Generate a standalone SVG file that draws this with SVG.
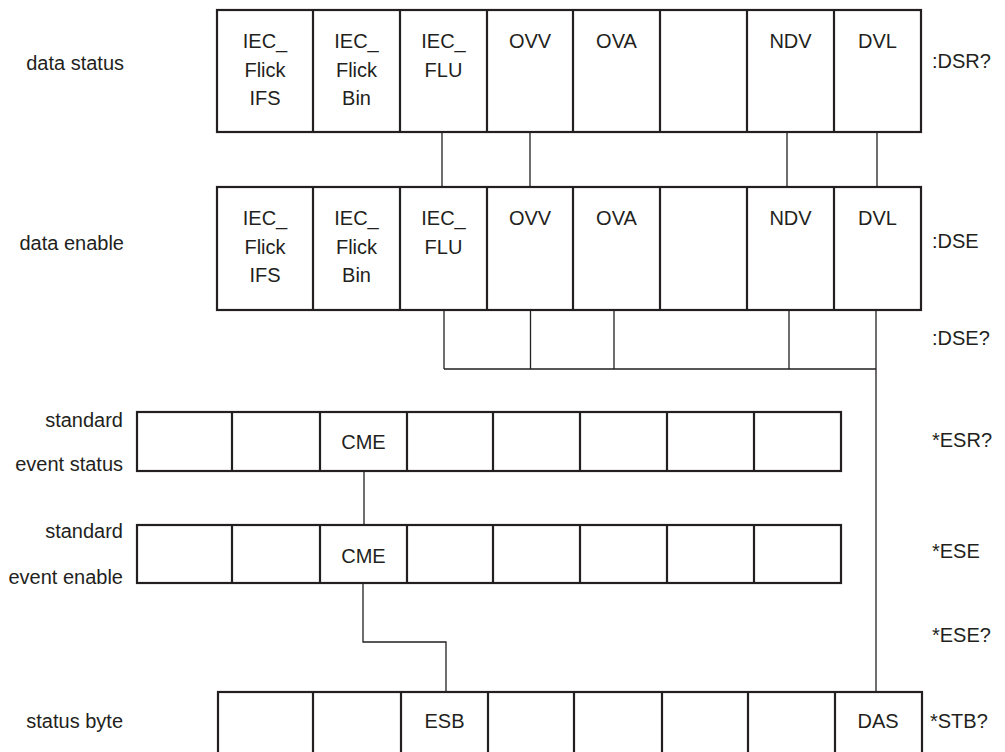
<svg xmlns="http://www.w3.org/2000/svg" width="1005" height="752" viewBox="0 0 1005 752">
<style>
.box{fill:#fff;stroke:#231f20;stroke-width:2.2}
.div{stroke:#231f20;stroke-width:2.2;fill:none}
.wire{stroke:#231f20;stroke-width:1.3;fill:none}
text{font-family:"Liberation Sans",Arial,sans-serif;font-size:20px;fill:#231f20}
.c{text-anchor:middle}
.r{text-anchor:end}
</style>
<rect width="1005" height="752" fill="#fff"/>

<g id="connectors">
  <path class="wire" d="M442 132V187M530 132V187M787 132V187M877 132V187"/>
  <path class="wire" d="M444 310V369M530.5 310V369M614 310V369M789 310V369M444 369H876M876 310V692"/>
  <path class="wire" d="M364 471V525"/>
  <path class="wire" d="M363 583V642H446V692"/>
</g>

<g id="data-status">
  <rect class="box" x="217" y="10" width="704" height="122"/>
  <path class="div" d="M313 10V132M400 10V132M487 10V132M573 10V132M660 10V132M747 10V132M834 10V132"/>
  <text class="c" x="265" y="48">IEC_</text><text class="c" x="265" y="77">Flick</text><text class="c" x="265" y="105">IFS</text>
  <text class="c" x="356.5" y="48">IEC_</text><text class="c" x="356.5" y="77">Flick</text><text class="c" x="356.5" y="105">Bin</text>
  <text class="c" x="443.5" y="48">IEC_</text><text class="c" x="443.5" y="77">FLU</text>
  <text class="c" x="530" y="48">OVV</text>
  <text class="c" x="616.5" y="48">OVA</text>
  <text class="c" x="790.5" y="48">NDV</text>
  <text class="c" x="877.5" y="48">DVL</text>
</g>

<g id="data-enable">
  <rect class="box" x="217" y="187" width="704" height="123"/>
  <path class="div" d="M313 187V310M400 187V310M487 187V310M573 187V310M660 187V310M747 187V310M834 187V310"/>
  <text class="c" x="265" y="225">IEC_</text><text class="c" x="265" y="254">Flick</text><text class="c" x="265" y="282">IFS</text>
  <text class="c" x="356.5" y="225">IEC_</text><text class="c" x="356.5" y="254">Flick</text><text class="c" x="356.5" y="282">Bin</text>
  <text class="c" x="443.5" y="225">IEC_</text><text class="c" x="443.5" y="254">FLU</text>
  <text class="c" x="530" y="225">OVV</text>
  <text class="c" x="616.5" y="225">OVA</text>
  <text class="c" x="790.5" y="225">NDV</text>
  <text class="c" x="877.5" y="225">DVL</text>
</g>

<g id="std-event-status">
  <rect class="box" x="137" y="412" width="704" height="59"/>
  <path class="div" d="M232 412V471M320 412V471M407 412V471M493 412V471M580 412V471M667 412V471M754 412V471"/>
  <text class="c" x="363.5" y="449">CME</text>
</g>

<g id="std-event-enable">
  <rect class="box" x="137" y="525" width="704" height="58"/>
  <path class="div" d="M232 525V583M320 525V583M407 525V583M493 525V583M580 525V583M667 525V583M754 525V583"/>
  <text class="c" x="363.5" y="563">CME</text>
</g>

<g id="status-byte">
  <rect class="box" x="218" y="692" width="704" height="62"/>
  <path class="div" d="M313 692V754M401 692V754M488 692V754M574 692V754M662 692V754M748 692V754M835 692V754"/>
  <text class="c" x="444.5" y="728">ESB</text>
  <text class="c" x="878" y="728">DAS</text>
</g>

<g id="labels">
  <text class="r" x="124" y="70">data status</text>
  <text class="r" x="124" y="250">data enable</text>
  <text class="r" x="123" y="427">standard</text>
  <text class="r" x="123" y="471">event status</text>
  <text class="r" x="123" y="538">standard</text>
  <text class="r" x="123" y="584">event enable</text>
  <text class="r" x="123" y="728">status byte</text>
  <text x="932" y="68">:DSR?</text>
  <text x="932" y="248">:DSE</text>
  <text x="932" y="345">:DSE?</text>
  <text x="932" y="447">*ESR?</text>
  <text x="932" y="558">*ESE</text>
  <text x="932" y="642">*ESE?</text>
  <text x="930" y="728">*STB?</text>
</g>
</svg>
